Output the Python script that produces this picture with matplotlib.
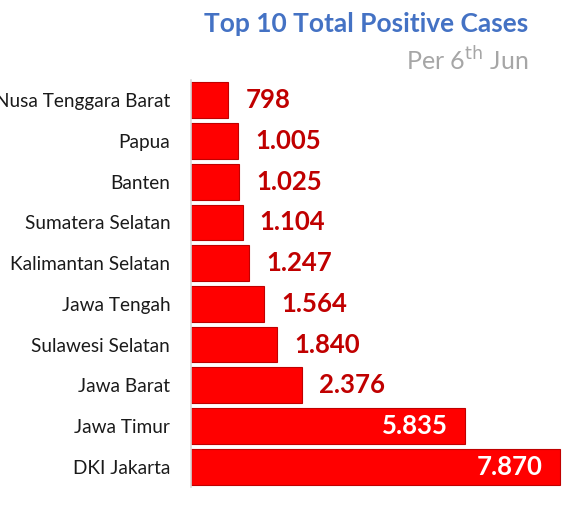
import matplotlib.pyplot as plt

plt.rcParams['font.family'] = ['Lato', 'DejaVu Sans']

provinces = ['Nusa Tenggara Barat', 'Papua', 'Banten', 'Sumatera Selatan',
             'Kalimantan Selatan', 'Jawa Tengah', 'Sulawesi Selatan',
             'Jawa Barat', 'Jawa Timur', 'DKI Jakarta']
cases = [798, 1005, 1025, 1104, 1247, 1564, 1840, 2376, 5835, 7870]

fig = plt.figure(figsize=(5.63, 5.19), dpi=100)
ax = fig.add_axes([191 / 563, 32 / 519, 372 / 563, 407 / 519])

ypos = list(range(len(provinces)))
ax.barh(ypos, cases, height=0.88, color='#FF0000', edgecolor='#C00000', linewidth=0.8)
ax.set_ylim(len(provinces) - 0.5, -0.5)
ax.set_xlim(0, 7935)

ax.set_yticks(ypos)
ax.set_yticklabels(provinces, fontsize=13.7, color='#1a1a1a')
ax.tick_params(axis='y', length=0, pad=15)
ax.set_xticks([])
for s in ['top', 'right', 'bottom']:
    ax.spines[s].set_visible(False)
ax.spines['left'].set_color('#D9D9D9')
ax.spines['left'].set_linewidth(1.2)

def fmt(v):
    return f'{v:,}'.replace(',', '.')

for y, v in zip(ypos, cases):
    if v > 5000:
        ax.annotate(fmt(v), (v, y), xytext=(-17, 0), textcoords='offset pixels',
                    ha='right', va='center', fontsize=18.5, fontweight='bold', color='white')
    else:
        ax.annotate(fmt(v), (v, y), xytext=(17, 0), textcoords='offset pixels',
                    ha='left', va='center', fontsize=18.5, fontweight='bold', color='#C00000')

fig.text(528 / 563, 1 - 24 / 519, 'Top 10 Total Positive Cases', ha='right', va='center',
         fontsize=19, fontweight='bold', color='#4472C4')
fig.text(528 / 563, 1 - 60 / 519, 'Per 6$^{\\mathrm{th}}$ Jun', ha='right', va='center',
         fontsize=18, color='#A6A6A6')

fig.savefig('out.png', dpi=100)
